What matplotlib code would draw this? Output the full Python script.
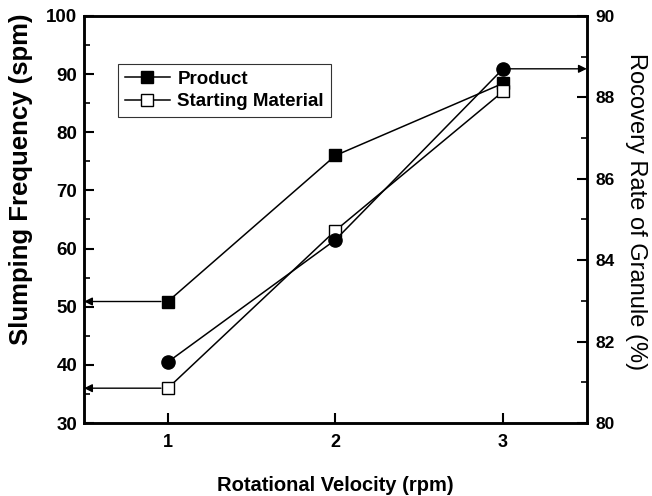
import matplotlib
matplotlib.use('Agg')
import matplotlib.pyplot as plt
from matplotlib.ticker import MultipleLocator

plt.rcParams['font.family'] = ['Liberation Sans', 'DejaVu Sans']

# data
velocity = [1, 2, 3]
product = [50.9, 76.0, 88.4]
starting = [36.0, 63.1, 87.0]
recovery = [81.5, 84.5, 88.7]

fig = plt.figure(figsize=(6.52, 4.96), dpi=100)
ax = fig.add_axes([0.129, 0.147, 0.771, 0.821])
ax2 = ax.twinx()

ax.plot(velocity, product, color='black', lw=1.1, marker='s', ms=8,
        mfc='black', mec='black', label='Product', zorder=3)
ax.plot(velocity, starting, color='black', lw=1.1, marker='s', ms=8,
        mfc='white', mec='black', label='Starting Material', zorder=3)
ax2.plot(velocity, recovery, color='black', lw=1.1, marker='o', ms=9.5,
         mfc='black', mec='black', zorder=3)

# arrows towards the axes
arrow = dict(arrowstyle='-|>', color='black', lw=1.0, mutation_scale=12,
             shrinkA=5, shrinkB=0)
ax.annotate('', xy=(0.5, product[0]), xytext=(velocity[0], product[0]), arrowprops=arrow)
ax.annotate('', xy=(0.5, starting[0]), xytext=(velocity[0], starting[0]), arrowprops=arrow)
ax2.annotate('', xy=(3.5, recovery[2]), xytext=(velocity[2], recovery[2]), arrowprops=arrow)

ax.set_xlim(0.5, 3.5)
ax.set_ylim(30, 100)
ax2.set_ylim(80, 90)
ax.set_xticks([1, 2, 3])
ax.yaxis.set_major_locator(MultipleLocator(10))
ax.yaxis.set_minor_locator(MultipleLocator(5))
ax2.yaxis.set_major_locator(MultipleLocator(2))
ax2.yaxis.set_minor_locator(MultipleLocator(1))

for s in ax.spines.values():
    s.set_linewidth(1.8)
for s in ax2.spines.values():
    s.set_linewidth(1.8)

ax.tick_params(axis='x', direction='in', length=7, width=1.5, labelsize=13, pad=8)
ax.tick_params(axis='y', which='major', direction='in', length=7, width=1.5, labelsize=13.5, pad=5)
ax.tick_params(axis='y', which='minor', direction='in', length=4, width=1.2)
ax2.tick_params(axis='y', which='major', direction='in', length=7, width=1.5, labelsize=12.5, pad=6)
ax2.tick_params(axis='y', which='minor', direction='in', length=4, width=1.2)
for lab in ax.get_xticklabels() + ax.get_yticklabels() + ax2.get_yticklabels():
    lab.set_fontweight('bold')

ax.set_xlabel('Rotational Velocity (rpm)', fontsize=14.5, fontweight='bold', labelpad=18)
ax.set_ylabel('Slumping Frequency (spm)', fontsize=18.5, fontweight='bold')
ax.yaxis.set_label_coords(-0.102, 0.6)
ax2.set_ylabel('Rocovery Rate of Granule (%)', fontsize=17, rotation=-90)
ax2.yaxis.set_label_coords(1.12, 0.52)

leg = ax.legend(loc='upper left', bbox_to_anchor=(0.068, 0.882), borderaxespad=0,
                prop={'weight': 'bold', 'size': 13.5}, frameon=True, fancybox=False,
                edgecolor='black', handlelength=2.4, handletextpad=0.4,
                borderpad=0.35, labelspacing=0.3)
leg.get_frame().set_linewidth(0.8)

fig.savefig('out.png', dpi=100)
